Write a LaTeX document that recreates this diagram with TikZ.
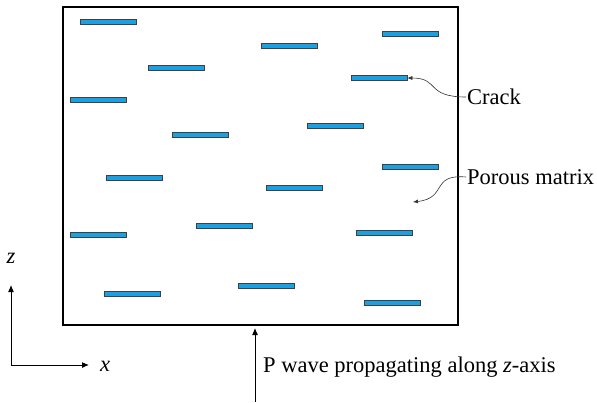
\documentclass[tikz,border=0pt]{standalone}
\usepackage{fontspec}
\setmainfont{Liberation Serif}
\usetikzlibrary{positioning,arrows.meta}
\definecolor{crackblue}{HTML}{1BA1E2}

\begin{document}
\begin{tikzpicture}[x=1pt, y=-1pt,
    crackBar/.style={draw=black!75, fill=crackblue, line width=0.6pt, minimum width=56pt, minimum height=4.5pt, inner sep=0pt},
    labelText/.style={font=\fontsize{22.5}{26}\selectfont, inner sep=1pt},
    axisArrow/.style={-{Latex[length=7pt,width=6pt]}, line width=1pt},
    pointerStyle/.style={-{Latex[length=5pt,width=4pt]}, line width=0.6pt, draw=black!80}
]
    \useasboundingbox (0,0) rectangle (597,402);

    % Matrice porosa
    \node[draw, line width=1.1pt, minimum width=395pt, minimum height=318pt, inner sep=0pt] (porousBox) at (260.5,166) {};

    % Fratture
    \foreach \name/\px/\py in {c1/108/22, c2/289/46, c3/410/34, c4/176/68, c5/379/78,
        c6/98/100, c7/200/135, c8/335/126, c9/134/178, c10/294/188, c11/410/167,
        c12/224/226, c13/98/235, c14/384/233, c15/132/294, c16/266/286, c17/392/303}
        \node[crackBar] (\name) at (\px,\py) {};

    % Etichette
    \node[labelText, anchor=west] (crackLbl) at (466,97) {Crack};
    \node[labelText, anchor=west] (matLbl) at (466,177) {Porous matrix};
    \coordinate (matPt) at (413,202);
    \draw[pointerStyle] (crackLbl.west) .. controls (425,97) and (440,78) .. (c5.east);
    \draw[pointerStyle] (matLbl.west) .. controls (430,174) and (448,198) .. (matPt);

    % Onda P
    \coordinate (waveStart) at (255,402);
    \coordinate (waveTip) at (255,328);
    \draw[axisArrow] (waveStart) -- (waveTip);
    \node[labelText, anchor=west] (waveLbl) at (262,367) {P wave propagating along \textit{z}-axis};

    % Assi
    \coordinate (origin) at (11,365);
    \coordinate (zTip) at (11,285);
    \coordinate (xTip) at (89,365);
    \draw[axisArrow] (origin) -- (zTip);
    \draw[axisArrow] (origin) -- (xTip);
    \node[labelText, font=\fontsize{22.5}{26}\selectfont\itshape] (zLbl) at (11,258) {z};
    \node[labelText, font=\fontsize{22.5}{26}\selectfont\itshape, anchor=west] (xLbl) at (99,366) {x};
\end{tikzpicture}
\end{document}
